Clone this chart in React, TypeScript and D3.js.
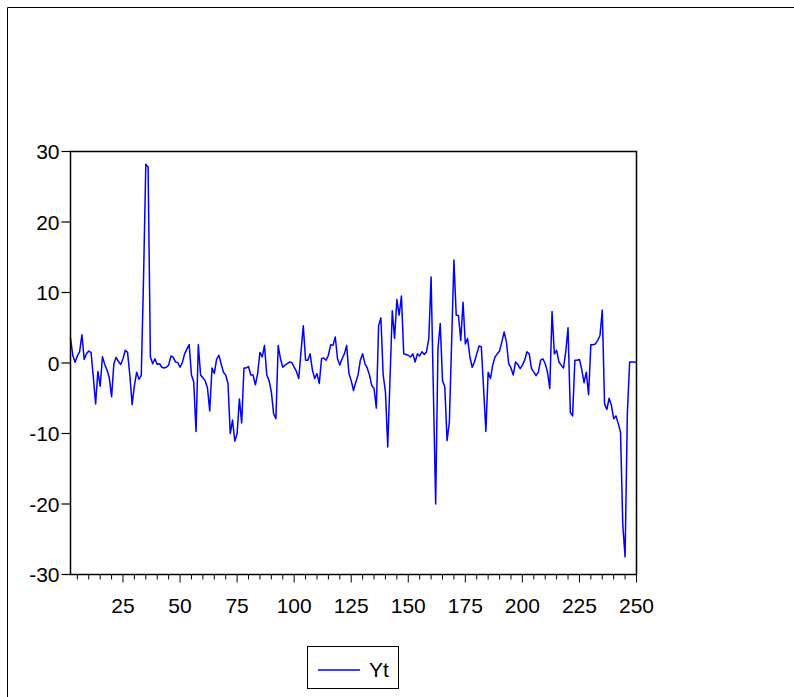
import React from "react";
import * as d3 from "d3";

const firstObs = 2;
const ytValues = [
  3.5, 1.1, 0.1, 1.0, 1.6, 4.0, 0.5, 1.3, 1.7, 1.5,
  -2.0, -5.8, -1.2, -3.3, 0.9, -0.2, -1.0, -2.1, -4.8, -0.1,
  0.8, 0.2, -0.2, 0.6, 1.8, 1.5, -1.7, -5.9, -3.2, -1.3,
  -2.3, -1.8, 12.0, 28.2, 27.8, 0.9, -0.1, 0.6, -0.2, -0.1,
  -0.6, -0.7, -0.6, -0.3, 1.0, 0.8, 0.15, 0.05, -0.6, 0.05,
  1.3, 2.0, 2.6, -1.7, -2.7, -9.7, 2.6, -1.7, -2.1, -2.5,
  -3.5, -6.8, -0.7, -1.5, 0.5, 1.1, -0.1, -1.3, -1.7, -2.9,
  -10.0, -8.1, -11.1, -10.0, -5.1, -8.5, -0.7, -0.7, -0.5, -1.7,
  -1.7, -3.1, -1.5, 1.5, 0.85, 2.5, -1.7, -2.5, -4.1, -7.2,
  -7.9, 2.5, 0.6, -0.6, -0.3, -0.1, 0.15, 0.05, -0.6, -1.2,
  -2.2, 1.6, 5.3, 0.4, 0.4, 1.3, -1.0, -2.2, -1.5, -2.9,
  0.6, 0.7, 0.4, 1.1, 2.6, 2.5, 3.7, 0.6, -0.3, 0.6,
  1.3, 2.5, -1.5, -2.5, -3.9, -2.7, -1.7, 0.4, 1.3, -0.1,
  -0.7, -1.7, -3.2, -3.6, -6.4, 5.3, 6.4, -1.7, -4.1, -11.9,
  -2.2, 7.4, 3.5, 9.0, 6.8, 9.5, 1.3, 1.2, 1.1, 0.85,
  1.3, 0.15, 1.3, 1.0, 1.6, 1.2, 1.6, 3.5, 12.2, -4.0,
  -20.0, 2.0, 5.6, -2.5, -3.4, -11.0, -8.4, 3.0, 14.6, 6.8,
  6.7, 3.2, 8.6, 2.7, 3.5, 0.85, -0.6, 0.15, 1.3, 2.4,
  2.3, -3.6, -9.7, -1.3, -2.2, -0.3, 0.85, 1.3, 1.7, 3.0,
  4.4, 3.0, -0.1, -0.7, -1.7, 0.15, -0.2, -0.8, -0.3, 0.4,
  1.6, 1.3, -0.8, -1.3, -1.8, -1.3, 0.4, 0.6, -0.1, -1.3,
  -3.6, 7.3, 1.3, 1.8, 0.15, -0.3, -0.7, 1.6, 5.0, -7.0,
  -7.5, 0.4, 0.4, 0.5, -0.9, -2.8, -1.3, -4.5, 2.6, 2.6,
  2.7, 3.2, 3.9, 7.5, -5.8, -6.6, -5.0, -6.0, -7.9, -7.5,
  -8.6, -9.8, -23.0, -27.5, -7.0, 0.15, 0.15, 0.15, 0.05,
];
const xTickLabels = [25, 50, 75, 100, 125, 150, 175, 200, 225, 250];
const yTickLabels = [-30, -20, -10, 0, 10, 20, 30];
const seriesName = "Yt";

const font = "'Liberation Sans', Arial, sans-serif";

export default function App() {
  const left = 70.5, right = 636.5, top = 151.5, bottom = 574.5;
  const lastObs = firstObs + ytValues.length - 1;

  const x = d3.scaleLinear().domain([firstObs, lastObs]).range([left, right]);
  const y = d3.scaleLinear().domain([-30, 30]).range([bottom, top]);

  const line = d3
    .line<number>()
    .x((_, i) => x(firstObs + i))
    .y((d) => y(d));

  const minorTicks = d3.range(5, lastObs + 1, 5);

  return (
    <svg
      width={794}
      height={697}
      style={{ position: "absolute", left: 0, top: 0, background: "#fff" }}
    >
      {/* outer frame */}
      <path d="M7.5,800 V7.5 H800" fill="none" stroke="#000" strokeWidth={1} />

      {/* y axis ticks */}
      {yTickLabels.map((t) => (
        <g key={t}>
          <line x1={left - 9} x2={left} y1={y(t)} y2={y(t)} stroke="#000" strokeWidth={1.2} />
          <text
            x={left - 11}
            y={y(t) + 7.5}
            textAnchor="end"
            fontFamily={font}
            fontSize={21}
            fill="#000"
          >
            {t}
          </text>
        </g>
      ))}

      {/* x axis ticks */}
      {minorTicks.map((t) => (
        <line
          key={t}
          x1={x(t)}
          x2={x(t)}
          y1={bottom}
          y2={bottom + (t % 25 === 0 ? 8 : 5)}
          stroke="#000"
          strokeWidth={1}
        />
      ))}
      {xTickLabels.map((t) => (
        <text
          key={t}
          x={x(t)}
          y={bottom + 38}
          textAnchor="middle"
          fontFamily={font}
          fontSize={21}
          fill="#000"
        >
          {t}
        </text>
      ))}

      {/* series */}
      <path d={line(ytValues) ?? ""} fill="none" stroke="#0000ff" strokeWidth={1.5} strokeLinejoin="round" />

      {/* plot frame */}
      <rect
        x={left}
        y={top}
        width={right - left}
        height={bottom - top}
        fill="none"
        stroke="#000"
        strokeWidth={1.5}
      />

      {/* legend */}
      <rect x={307.5} y={646.5} width={91} height={42} fill="#fff" stroke="#000" strokeWidth={1} />
      <line x1={318} x2={360} y1={670} y2={670} stroke="#0000ff" strokeWidth={1.5} />
      <text x={369} y={677} fontFamily={font} fontSize={21} fill="#000">
        {seriesName}
      </text>
    </svg>
  );
}
